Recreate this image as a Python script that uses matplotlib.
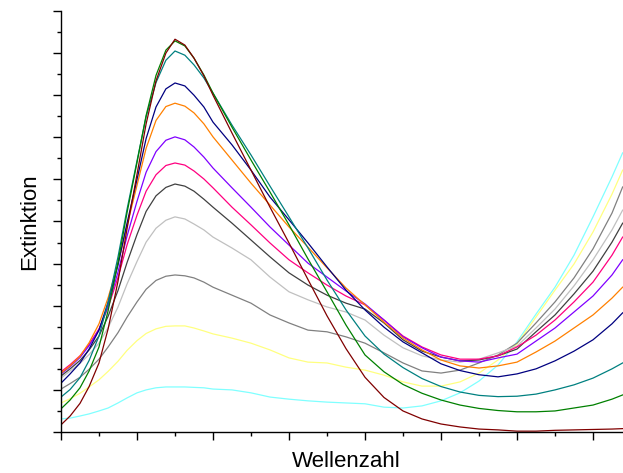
import matplotlib
matplotlib.use("Agg")
import matplotlib.pyplot as plt
from matplotlib.ticker import MultipleLocator, NullFormatter

plt.rcParams['font.family'] = ['Liberation Sans', 'DejaVu Sans']

# x positions (arbitrary wavenumber units, axis has no tick labels)
x = [0, 0.12, 0.25, 0.37, 0.5, 0.62, 0.75, 0.87, 1.0, 1.12, 1.25, 1.38, 1.5,
     1.63, 1.75, 1.88, 2.0, 2.25, 2.5, 2.75, 3.0, 3.25, 3.5, 3.75, 4.0, 4.25,
     4.5, 4.75, 5.0, 5.25, 5.5, 5.75, 6.0, 6.25, 6.5, 6.75, 7.0, 7.25, 7.39]

cyan = [0.31, 0.33, 0.38, 0.43, 0.50, 0.57, 0.69, 0.81, 0.93, 1.00, 1.05, 1.07, 1.07,
        1.07, 1.06, 1.05, 1.02, 1.00, 0.93, 0.83, 0.78, 0.74, 0.71, 0.69, 0.67, 0.59,
        0.57, 0.62, 0.74, 0.93, 1.21, 1.59, 2.14, 2.80, 3.44, 4.20, 5.11, 6.06, 6.63]
yellow = [0.69, 0.79, 0.92, 1.07, 1.24, 1.44, 1.68, 1.94, 2.17, 2.34, 2.45, 2.51, 2.52,
          2.52, 2.47, 2.40, 2.33, 2.23, 2.11, 1.95, 1.76, 1.66, 1.64, 1.54, 1.47, 1.35,
          1.19, 1.09, 1.09, 1.19, 1.40, 1.71, 2.09, 2.73, 3.37, 3.99, 4.75, 5.65, 6.22]
gray = [1.02, 1.15, 1.30, 1.49, 1.73, 2.02, 2.36, 2.73, 3.09, 3.39, 3.60, 3.70, 3.73,
        3.71, 3.66, 3.56, 3.44, 3.25, 3.06, 2.78, 2.59, 2.42, 2.38, 2.26, 2.11, 1.88,
        1.64, 1.45, 1.40, 1.47, 1.64, 1.83, 2.11, 2.59, 3.09, 3.66, 4.35, 5.20, 5.82]
lightgray = [1.28, 1.45, 1.63, 1.84, 2.11, 2.48, 2.97, 3.52, 4.05, 4.51, 4.84, 5.03, 5.11,
             5.06, 4.94, 4.80, 4.63, 4.37, 4.09, 3.68, 3.33, 3.14, 2.97, 2.85, 2.66, 2.30,
             2.00, 1.81, 1.71, 1.66, 1.73, 1.88, 2.04, 2.47, 2.92, 3.47, 4.09, 4.80, 5.27]
darkgray = [1.33, 1.50, 1.70, 1.95, 2.28, 2.75, 3.36, 4.03, 4.69, 5.24, 5.61, 5.81, 5.89,
            5.84, 5.72, 5.53, 5.34, 4.96, 4.56, 4.16, 3.78, 3.49, 3.25, 3.06, 2.92, 2.59,
            2.19, 1.92, 1.78, 1.69, 1.71, 1.81, 1.97, 2.38, 2.78, 3.28, 3.82, 4.51, 4.96]
pink = [1.43, 1.60, 1.81, 2.08, 2.45, 2.96, 3.67, 4.45, 5.15, 5.72, 6.11, 6.33, 6.39,
        6.34, 6.20, 6.01, 5.80, 5.34, 4.92, 4.49, 4.09, 3.78, 3.49, 3.23, 3.02, 2.66,
        2.28, 2.02, 1.83, 1.73, 1.73, 1.81, 2.02, 2.30, 2.66, 3.09, 3.56, 4.20, 4.63]
violet = [1.38, 1.55, 1.77, 2.05, 2.43, 2.99, 3.80, 4.66, 5.48, 6.17, 6.66, 6.93, 7.01,
          6.94, 6.77, 6.53, 6.27, 5.80, 5.34, 4.87, 4.44, 4.01, 3.68, 3.35, 3.04, 2.66,
          2.26, 2.00, 1.78, 1.69, 1.66, 1.76, 1.85, 2.16, 2.47, 2.85, 3.23, 3.73, 4.09]
orange = [1.40, 1.57, 1.80, 2.12, 2.57, 3.19, 3.99, 4.91, 5.86, 6.74, 7.40, 7.73, 7.81,
          7.74, 7.58, 7.32, 7.01, 6.46, 5.91, 5.39, 4.87, 4.39, 3.90, 3.42, 3.02, 2.61,
          2.23, 1.95, 1.71, 1.57, 1.52, 1.57, 1.66, 1.90, 2.16, 2.47, 2.78, 3.18, 3.44]
navy = [1.16, 1.38, 1.64, 1.97, 2.42, 3.08, 3.97, 4.97, 6.00, 6.97, 7.72, 8.15, 8.29,
        8.22, 8.00, 7.72, 7.36, 6.82, 6.22, 5.58, 5.04, 4.49, 3.92, 3.37, 2.90, 2.49,
        2.14, 1.88, 1.62, 1.46, 1.36, 1.31, 1.38, 1.50, 1.69, 1.92, 2.19, 2.57, 2.83]
darkcyan = [0.83, 1.01, 1.29, 1.70, 2.28, 3.08, 4.16, 5.30, 6.44, 7.49, 8.30, 8.83, 9.05,
            8.95, 8.72, 8.41, 8.05, 7.29, 6.58, 5.84, 5.11, 4.37, 3.61, 2.90, 2.28, 1.85,
            1.53, 1.27, 1.08, 0.95, 0.87, 0.84, 0.85, 0.90, 1.00, 1.12, 1.28, 1.50, 1.64]
green = [0.55, 0.76, 1.05, 1.45, 2.02, 2.88, 4.03, 5.22, 6.40, 7.52, 8.47, 9.07, 9.29,
         9.17, 8.88, 8.48, 8.05, 7.24, 6.46, 5.70, 4.92, 4.11, 3.33, 2.54, 1.83, 1.43,
         1.13, 0.92, 0.76, 0.64, 0.56, 0.51, 0.48, 0.48, 0.50, 0.57, 0.64, 0.78, 0.88]
wine = [0.17, 0.38, 0.68, 1.08, 1.64, 2.45, 3.58, 4.84, 6.12, 7.32, 8.34, 9.00, 9.33,
        9.19, 8.88, 8.46, 8.00, 7.10, 6.22, 5.34, 4.49, 3.62, 2.76, 1.98, 1.30, 0.82,
        0.50, 0.31, 0.19, 0.12, 0.07, 0.05, 0.02, 0.02, 0.04, 0.05, 0.06, 0.07, 0.08]

series = [
    (cyan, '#80FFFF'),
    (yellow, '#FFFF80'),
    (gray, '#808080'),
    (lightgray, '#C0C0C0'),
    (darkgray, '#404040'),
    (pink, '#FF0080'),
    (violet, '#8000FF'),
    (orange, '#FF8000'),
    (navy, '#000080'),
    (darkcyan, '#008080'),
    (green, '#008000'),
    (wine, '#800000'),
]

fig = plt.figure(figsize=(6.23, 4.73), dpi=100)
ax = fig.add_axes([61 / 623, 41 / 473, 562 / 623, 421 / 473])

for ys, c in series:
    ax.plot(x, ys, color=c, lw=0.9, solid_joinstyle='round')

ax.set_xlim(0, 562 / 76)
ax.set_ylim(0, 10)

for s in ('top', 'right'):
    ax.spines[s].set_visible(False)
for s in ('left', 'bottom'):
    ax.spines[s].set_linewidth(1.0)

ax.xaxis.set_major_locator(MultipleLocator(1))
ax.xaxis.set_minor_locator(MultipleLocator(0.5))
ax.yaxis.set_major_locator(MultipleLocator(1))
ax.yaxis.set_minor_locator(MultipleLocator(0.5))
ax.xaxis.set_major_formatter(NullFormatter())
ax.yaxis.set_major_formatter(NullFormatter())
ax.tick_params(which='major', direction='out', length=5.8, width=1.0)
ax.tick_params(which='minor', direction='out', length=3.0, width=1.0)

ax.set_xlabel('Wellenzahl', fontsize=16)
ax.set_ylabel('Extinktion', fontsize=16)
ax.xaxis.set_label_coords(0.507, -0.045)
ax.yaxis.set_label_coords(-0.038, 0.5)

fig.savefig('out.png', dpi=100)
